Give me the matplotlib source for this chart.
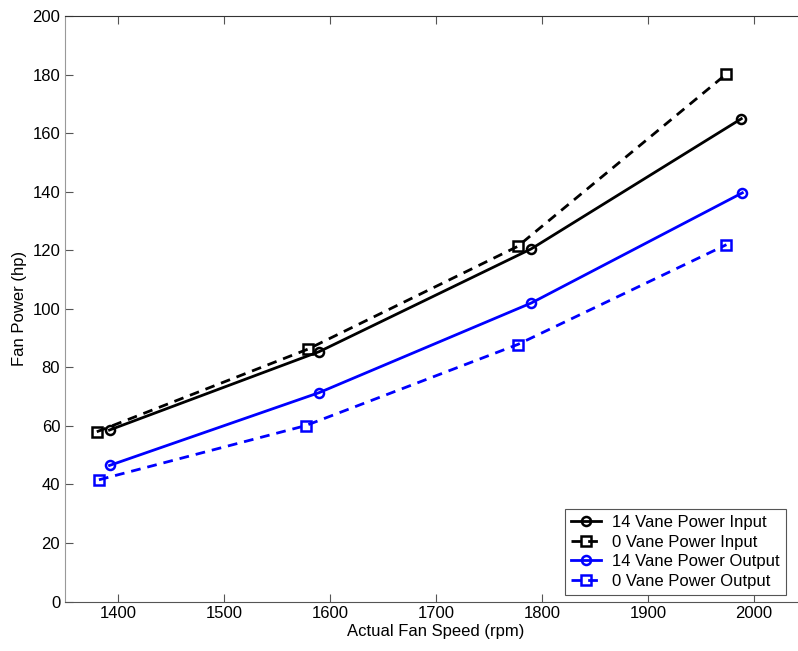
import matplotlib.pyplot as plt

plt.rcParams['font.family'] = ['Liberation Sans', 'DejaVu Sans']

# 14 vane / 0 vane, power input and output
in14_x = [1392, 1590, 1790, 1988]
in14_y = [58.6, 85.4, 120.5, 164.9]
in0_x = [1380, 1579, 1777, 1974]
in0_y = [58.0, 86.2, 121.3, 180.2]
out14_x = [1392, 1590, 1790, 1989]
out14_y = [46.5, 71.4, 102.0, 139.6]
out0_x = [1382, 1577, 1777, 1974]
out0_y = [41.6, 60.1, 87.8, 121.9]

fig = plt.figure(figsize=(7.98, 6.51), dpi=100)
ax = fig.add_axes([65/798, 49.4/651, 742/798, 585.6/651])

dash = (0, (3.5, 2.5))
ms = 6.5
ax.plot(in14_x, in14_y, color='k', lw=2, marker='o', ms=ms, mfc='none', mew=1.8,
        label='14 Vane Power Input')
ax.plot(in0_x, in0_y, color='k', lw=2, ls=dash, marker='s', ms=ms, mfc='none', mew=1.8,
        label='0 Vane Power Input')
ax.plot(out14_x, out14_y, color='#0000ff', lw=2, marker='o', ms=ms, mfc='none', mew=1.8,
        label='14 Vane Power Output')
ax.plot(out0_x, out0_y, color='#0000ff', lw=2, ls=dash, marker='s', ms=ms, mfc='none', mew=1.8,
        label='0 Vane Power Output')

ax.set_xlim(1350, 2050)
ax.set_ylim(0, 200)
ax.set_xticks([1400, 1500, 1600, 1700, 1800, 1900, 2000])
ax.set_yticks(range(0, 201, 20))
ax.tick_params(direction='in', length=6, width=0.8, labelsize=12, top=True,
               colors='#555555', labelcolor='black')
ax.spines['left'].set_color('#999999')
ax.spines['bottom'].set_color('#555555')
ax.spines['top'].set_color('#333333')
ax.spines['right'].set_visible(False)

ax.set_xlabel('Actual Fan Speed (rpm)', fontsize=12, labelpad=2)
ax.set_ylabel('Fan Power (hp)', fontsize=12, labelpad=4)

lgd = ax.legend(loc='upper left', bbox_to_anchor=(565/798, 1 - 509/651),
                bbox_transform=fig.transFigure, fontsize=12, frameon=True, fancybox=False,
                edgecolor='#555555', framealpha=1, handlelength=1.8, handletextpad=0.7,
                borderpad=0.35, borderaxespad=0, labelspacing=0.28)
lgd.get_frame().set_linewidth(0.8)

fig.savefig('out.png', dpi=100)
